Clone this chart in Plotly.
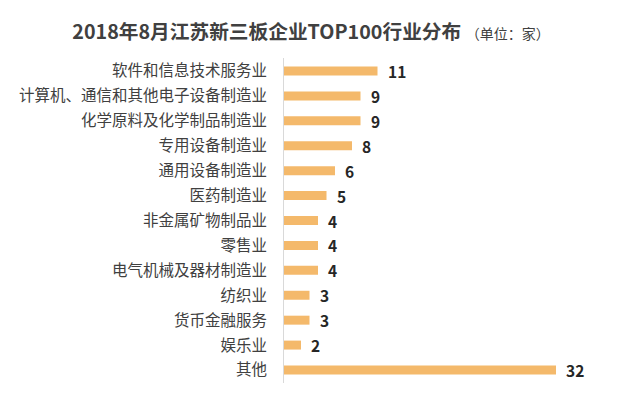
import plotly.graph_objects as go

categories = ["软件和信息技术服务业", "计算机、通信和其他电子设备制造业", "化学原料及化学制品制造业",
              "专用设备制造业", "通用设备制造业", "医药制造业", "非金属矿物制品业", "零售业",
              "电气机械及器材制造业", "纺织业", "货币金融服务", "娱乐业", "其他"]
values = [11, 9, 9, 8, 6, 5, 4, 4, 4, 3, 3, 2, 32]

title_main = "2018年8月江苏新三板企业TOP100行业分布"
title_unit = "（单位：家）"

FONT = "Noto Sans CJK SC, Microsoft YaHei, sans-serif"
BAR_COLOR = "#F4B96B"

# page has an 8px body margin, so the figure is 8px smaller than the window
W, H = 632, 391

fig = go.Figure()
fig.add_trace(go.Bar(
    y=categories, x=values, orientation="h",
    marker=dict(color=BAR_COLOR, line=dict(width=0)),
    width=0.36, hoverinfo="x+y",
))

for c, v in zip(categories, values):
    fig.add_annotation(x=v, y=c, text=f"<b>{v}</b>", showarrow=False,
                       xanchor="left", xshift=8,
                       font=dict(family=FONT, size=15.5, color="#262626"))

fig.update_layout(
    width=W, height=H,
    margin=dict(l=276, r=16, t=50, b=16),
    paper_bgcolor="white", plot_bgcolor="white",
    showlegend=False,
    font=dict(family=FONT, color="#404040"),
    title=dict(
        text=f"<b>{title_main}</b> <span style='font-size:14px'>{title_unit}</span>",
        x=303/W, xanchor="center", xref="container",
        y=1-24/H, yanchor="middle", yref="container",
        font=dict(family=FONT, size=19.7, color="#404040"),
    ),
    xaxis=dict(range=[0, 40], visible=False, showgrid=False, zeroline=False),
    yaxis=dict(autorange="reversed", showgrid=False, zeroline=False,
               showline=True, linecolor="#D9D9D9", linewidth=1,
               ticks="", ticklabelstandoff=13,
               tickfont=dict(family=FONT, size=15.5, color="#404040")),
)

fig.write_html("out.html")
